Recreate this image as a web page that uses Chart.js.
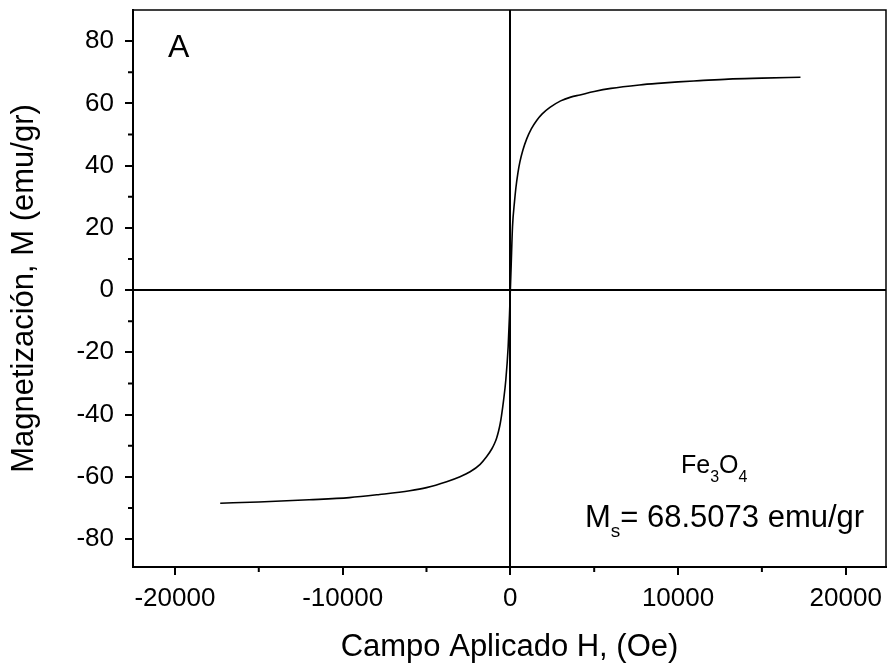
<!DOCTYPE html>
<html>
<head>
<meta charset="utf-8">
<title>Fe3O4 M-H</title>
<script src="https://cdn.jsdelivr.net/npm/chart.js@4.4.0/dist/chart.umd.min.js"></script>
<style>
  html, body { margin: 0; padding: 0; background: #fff; }
  #wrap { width: 888px; height: 669px; }
</style>
</head>
<body>
<div id="wrap"><canvas id="mhChart" width="888" height="669"></canvas></div>
<script>
// Magnetization curve of Fe3O4 nanoparticles at room temperature
const fieldH = [
  -17300, -15000, -12000, -9600, -7800, -6000, -5000, -3800, -3000, -2400,
  -1800, -1420, -1100, -950, -820, -700, -600, -530, -400, -270,
  -130, -50, 0, 50, 130, 250, 330, 450, 570, 750,
  970, 1250, 1570, 1900, 2360, 3000, 3600, 4150, 5000, 6000,
  7700, 9000, 10000, 11300, 13000, 15000, 17300
];
const magnetization = [
  -68.5, -68.1, -67.4, -66.7, -65.7, -64.5, -63.5, -61.6, -60.0, -58.4,
  -56.0, -53.6, -51.0, -49.4, -47.6, -45.3, -42.8, -40.5, -35.3, -28.9,
  -18.2, -8.0, 0, 8.0, 20.4, 28.5, 32.8, 37.6, 41.2, 45.0,
  48.5, 51.8, 54.5, 56.6, 58.7, 60.8, 62.0, 62.7, 63.8, 64.8,
  65.9, 66.5, 66.9, 67.3, 67.8, 68.1, 68.4
];

const xTicks = [-20000, -10000, 0, 10000, 20000];
const xMinorTicks = [-15000, -5000, 5000, 15000];
const yTicks = [-80, -60, -40, -20, 0, 20, 40, 60, 80];
const yMinorTicks = [-70, -50, -30, -10, 10, 30, 50, 70];

const FONT = "'Liberation Sans', Arial, Helvetica, sans-serif";

const points = fieldH.map((h, i) => ({ x: h, y: magnetization[i] }));

// zero lines only, no grid
const zeroLine = c => (c.tick && c.tick.value === 0) ? '#000' : 'rgba(0,0,0,0)';
const plain = v => String(v);

/* frame, minor ticks and text labels */
const extras = {
  id: 'extras',
  afterDraw(chart) {
    const { ctx, chartArea: a, scales: { x, y } } = chart;
    ctx.save();
    ctx.strokeStyle = '#000';

    ctx.lineWidth = 1.5;
    ctx.beginPath();
    ctx.moveTo(a.left, a.top);
    ctx.lineTo(a.right, a.top);
    ctx.lineTo(a.right, a.bottom);
    ctx.stroke();

    ctx.lineWidth = 2;
    ctx.beginPath();
    xMinorTicks.forEach(v => {
      const px = x.getPixelForValue(v);
      ctx.moveTo(px, a.bottom);
      ctx.lineTo(px, a.bottom + 5);
    });
    yMinorTicks.forEach(v => {
      const py = y.getPixelForValue(v);
      ctx.moveTo(a.left, py);
      ctx.lineTo(a.left - 5, py);
    });
    ctx.stroke();

    ctx.fillStyle = '#000';
    ctx.textBaseline = 'alphabetic';
    ctx.textAlign = 'left';

    ctx.font = `32px ${FONT}`;
    ctx.fillText('A', 168, 57);

    // Fe3O4
    let cx = 681;
    ctx.font = `25px ${FONT}`;
    ctx.fillText('Fe', cx, 473);
    cx += ctx.measureText('Fe').width;
    ctx.font = `16px ${FONT}`;
    ctx.fillText('3', cx, 482);
    cx += ctx.measureText('3').width;
    ctx.font = `25px ${FONT}`;
    ctx.fillText('O', cx, 473);
    cx += ctx.measureText('O').width;
    ctx.font = `16px ${FONT}`;
    ctx.fillText('4', cx, 482);

    // Ms = ...
    ctx.font = `31px ${FONT}`;
    const valueX = 647;
    const eqX = valueX - ctx.measureText('= ').width;
    ctx.fillText('= 68.5073 emu/gr', eqX, 527);
    ctx.font = `19px ${FONT}`;
    const sX = eqX - ctx.measureText('s').width;
    ctx.fillText('s', sX, 537);
    ctx.font = `31px ${FONT}`;
    ctx.fillText('M', sX - ctx.measureText('M').width, 527);

    ctx.restore();
  }
};

new Chart(document.getElementById('mhChart'), {
  type: 'scatter',
  data: {
    datasets: [{
      label: 'Fe3O4',
      data: points,
      showLine: true,
      borderColor: '#000',
      borderWidth: 1.6,
      pointRadius: 0,
      cubicInterpolationMode: 'monotone',
      fill: false
    }]
  },
  options: {
    responsive: false,
    animation: false,
    devicePixelRatio: 1,
    layout: { padding: { top: 10, right: 2, left: 0, bottom: 0 } },
    plugins: {
      legend: { display: false },
      tooltip: { enabled: false }
    },
    scales: {
      x: {
        type: 'linear',
        min: -22500,
        max: 22400,
        afterBuildTicks: s => { s.ticks = xTicks.map(v => ({ value: v })); },
        afterFit: s => {
          s.height = 102;
          s.paddingLeft = 0;
          s.paddingRight = 0;
        },
        border: { color: '#000', width: 2 },
        grid: {
          color: zeroLine,
          lineWidth: 2,
          tickColor: '#000',
          tickLength: 8,
          tickWidth: 2
        },
        ticks: {
          color: '#000',
          font: { family: FONT, size: 26 },
          padding: 8,
          maxRotation: 0,
          callback: plain
        },
        title: {
          display: true,
          text: 'Campo Aplicado H, (Oe)',
          color: '#000',
          font: { family: FONT, size: 31 },
          padding: { top: 0, bottom: 3 }
        }
      },
      y: {
        type: 'linear',
        min: -89,
        max: 90,
        afterBuildTicks: s => { s.ticks = yTicks.map(v => ({ value: v })); },
        afterFit: s => {
          s.width = 133;
          s.paddingTop = 0;
          s.paddingBottom = 0;
        },
        border: { color: '#000', width: 2 },
        grid: {
          color: zeroLine,
          lineWidth: 2,
          tickColor: '#000',
          tickLength: 8,
          tickWidth: 2
        },
        ticks: {
          color: '#000',
          font: { family: FONT, size: 26 },
          padding: 11,
          callback: plain
        },
        title: {
          display: true,
          text: 'Magnetización, M (emu/gr)',
          color: '#000',
          font: { family: FONT, size: 31 },
          padding: { top: 6, bottom: 0 }
        }
      }
    }
  },
  plugins: [extras]
});
</script>
</body>
</html>
